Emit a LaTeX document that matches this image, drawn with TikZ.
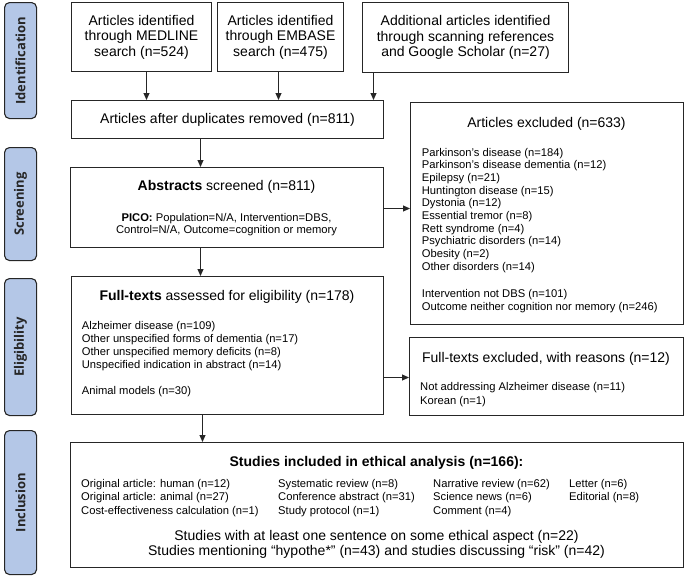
\documentclass[tikz,border=0pt]{standalone}
\usepackage{fontspec}
\setmainfont{Liberation Sans}
\newfontfamily\barfont{Open Sans}
\usetikzlibrary{arrows.meta}
\definecolor{barblue}{HTML}{B4C7E7}
\definecolor{lin}{HTML}{262626}
\begin{document}
\begin{tikzpicture}[x=1pt,y=-1pt,
 box/.style={draw=lin, line width=1pt, inner sep=0pt, anchor=north west},
 tbox/.style={box, align=center, font=\fontsize{14}{15.5}\selectfont},
 bar/.style={draw=lin, fill=barblue, line width=1.1pt, rounded corners=5pt, inner sep=0pt, anchor=north west, minimum width=32pt},
 barlab/.style={font=\barfont\bfseries\fontsize{13}{15}\selectfont, rotate=90, text=black!85, inner sep=0pt},
 ttl/.style={font=\fontsize{14}{15.5}\selectfont, inner sep=0pt, anchor=base},
 lst/.style={font=\fontsize{11.2}{12.8}\selectfont, inner sep=0pt, anchor=base west},
 lstc/.style={font=\fontsize{11.2}{12.8}\selectfont, inner sep=0pt, anchor=base},
 arr/.style={draw=lin, line width=1pt, -{Triangle[length=7pt,width=6pt]}}]
\useasboundingbox (0,0) rectangle (685,576);

% phase bars
\node[bar, minimum height=116pt] (idb) at (4,2) {};
\node[barlab] (idl) at (idb.center) {Identification};
\node[bar, minimum height=113pt] (scb) at (4,147) {};
\node[barlab] (scl) at (scb.center) {Screening};
\node[bar, minimum height=137pt] (elb) at (4,278) {};
\node[barlab] (ell) at (elb.center) {Eligibility};
\node[bar, minimum height=144pt] (inb) at (4,430) {};
\node[barlab] (inl) at (inb.center) {Inclusion};

% identification boxes
\node[tbox, minimum width=140pt, minimum height=69pt] (med) at (71,2) {Articles identified\\through MEDLINE\\search (n=524)};
\node[tbox, minimum width=126pt, minimum height=69pt] (emb) at (217,2) {Articles identified\\through EMBASE\\search (n=475)};
\node[tbox, minimum width=206pt, minimum height=70pt] (add) at (362,2) {Additional articles identified\\through scanning references\\and Google Scholar (n=27)};
\node[tbox, minimum width=312pt, minimum height=38pt] (dup) at (71,100) {Articles after duplicates removed (n=811)};

% screening
\node[box, minimum width=313pt, minimum height=80pt] (abs) at (70,167) {};
\node[ttl] (abst) at (226.5,190.7) {\textbf{Abstracts} screened (n=811)};
\node[lstc] (pico1) at (226.5,221) {\textbf{PICO:} Population=N/A, Intervention=DBS,};
\node[lstc] (pico2) at (226.5,233.3) {Control=N/A, Outcome=cognition or memory};

% excluded articles
\node[box, minimum width=273pt, minimum height=222pt] (exc) at (410,102) {};
\node[ttl] (exct) at (546.5,127) {Articles excluded (n=633)};
\foreach \t [count=\i from 0] in {Parkinson’s disease (n=184), Parkinson’s disease dementia (n=12), Epilepsy (n=21), Huntington disease (n=15), Dystonia (n=12), Essential tremor (n=8), Rett syndrome (n=4), Psychiatric disorders (n=14), Obesity (n=2), Other disorders (n=14)}
  \node[lst] (exci\i) at (421.7,156+12.7*\i) {\t};
\node[lst] (excdbs) at (421.7,297.3) {Intervention not DBS (n=101)};
\node[lst] (excout) at (421.7,310) {Outcome neither cognition nor memory (n=246)};

% eligibility
\node[box, minimum width=312pt, minimum height=138pt] (full) at (71,276) {};
\node[ttl] (fullt) at (227,300) {\textbf{Full-texts} assessed for eligibility (n=178)};
\node[lst] (full1) at (81.7,329) {Alzheimer disease (n=109)};
\node[lst] (full2) at (81.7,342) {Other unspecified forms of dementia (n=17)};
\node[lst] (full3) at (81.7,355.3) {Other unspecified memory deficits (n=8)};
\node[lst] (full4) at (81.7,368) {Unspecified indication in abstract (n=14)};
\node[lst] (full5) at (81.7,394.5) {Animal models (n=30)};

\node[box, minimum width=274pt, minimum height=78pt] (fexc) at (409,337) {};
\node[ttl] (fexct) at (546,362) {Full-texts excluded, with reasons (n=12)};
\node[lst] (fexc1) at (420,390.7) {Not addressing Alzheimer disease (n=11)};
\node[lst] (fexc2) at (420,404) {Korean (n=1)};

% inclusion
\node[box, minimum width=613pt, minimum height=125pt] (inc) at (70,442) {};
\node[ttl] (inct) at (376.5,466) {\textbf{Studies included in ethical analysis (n=166):}};
\node[lst] (c11) at (81,487.3) {Original article: human (n=12)};
\node[lst] (c12) at (81,500.7) {Original article: animal (n=27)};
\node[lst] (c13) at (81,514) {Cost-effectiveness calculation (n=1)};
\node[lst] (c21) at (278,487.3) {Systematic review (n=8)};
\node[lst] (c22) at (278,500.7) {Conference abstract (n=31)};
\node[lst] (c23) at (278,514) {Study protocol (n=1)};
\node[lst] (c31) at (433,487.3) {Narrative review (n=62)};
\node[lst] (c32) at (433,500.7) {Science news (n=6)};
\node[lst] (c33) at (433,514) {Comment (n=4)};
\node[lst] (c41) at (569,487.3) {Letter (n=6)};
\node[lst] (c42) at (569,500.7) {Editorial (n=8)};
\node[ttl] (incb1) at (376.5,540) {Studies with at least one sentence on some ethical aspect (n=22)};
\node[ttl] (incb2) at (376.5,555) {Studies mentioning “hypothe*” (n=43) and studies discussing “risk” (n=42)};

% connectors
\draw[arr] ([xshift=5pt]med.south) -- ([xshift=5pt]med.south |- dup.north);
\draw[arr] ([xshift=-2pt]emb.south) -- ([xshift=-2pt]emb.south |- dup.north);
\draw[arr] ([xshift=-92pt]add.south) -- ([xshift=-92pt]add.south |- dup.north);
\draw[arr] ([xshift=-27pt]dup.south) -- ([xshift=-27pt]dup.south |- abs.north);
\draw[arr] ([xshift=-26.5pt]abs.south) -- ([xshift=-26.5pt]abs.south |- full.north);
\draw[arr] ([xshift=-25pt]full.south) -- ([xshift=-25pt]full.south |- inc.north);
\draw[arr] ([yshift=-1pt]abs.east) -- ([yshift=-1pt]abs.east -| exc.west);
\draw[arr] ([yshift=-32pt]full.east) -- ([yshift=-32pt]full.east -| fexc.west);
\end{tikzpicture}
\end{document}
